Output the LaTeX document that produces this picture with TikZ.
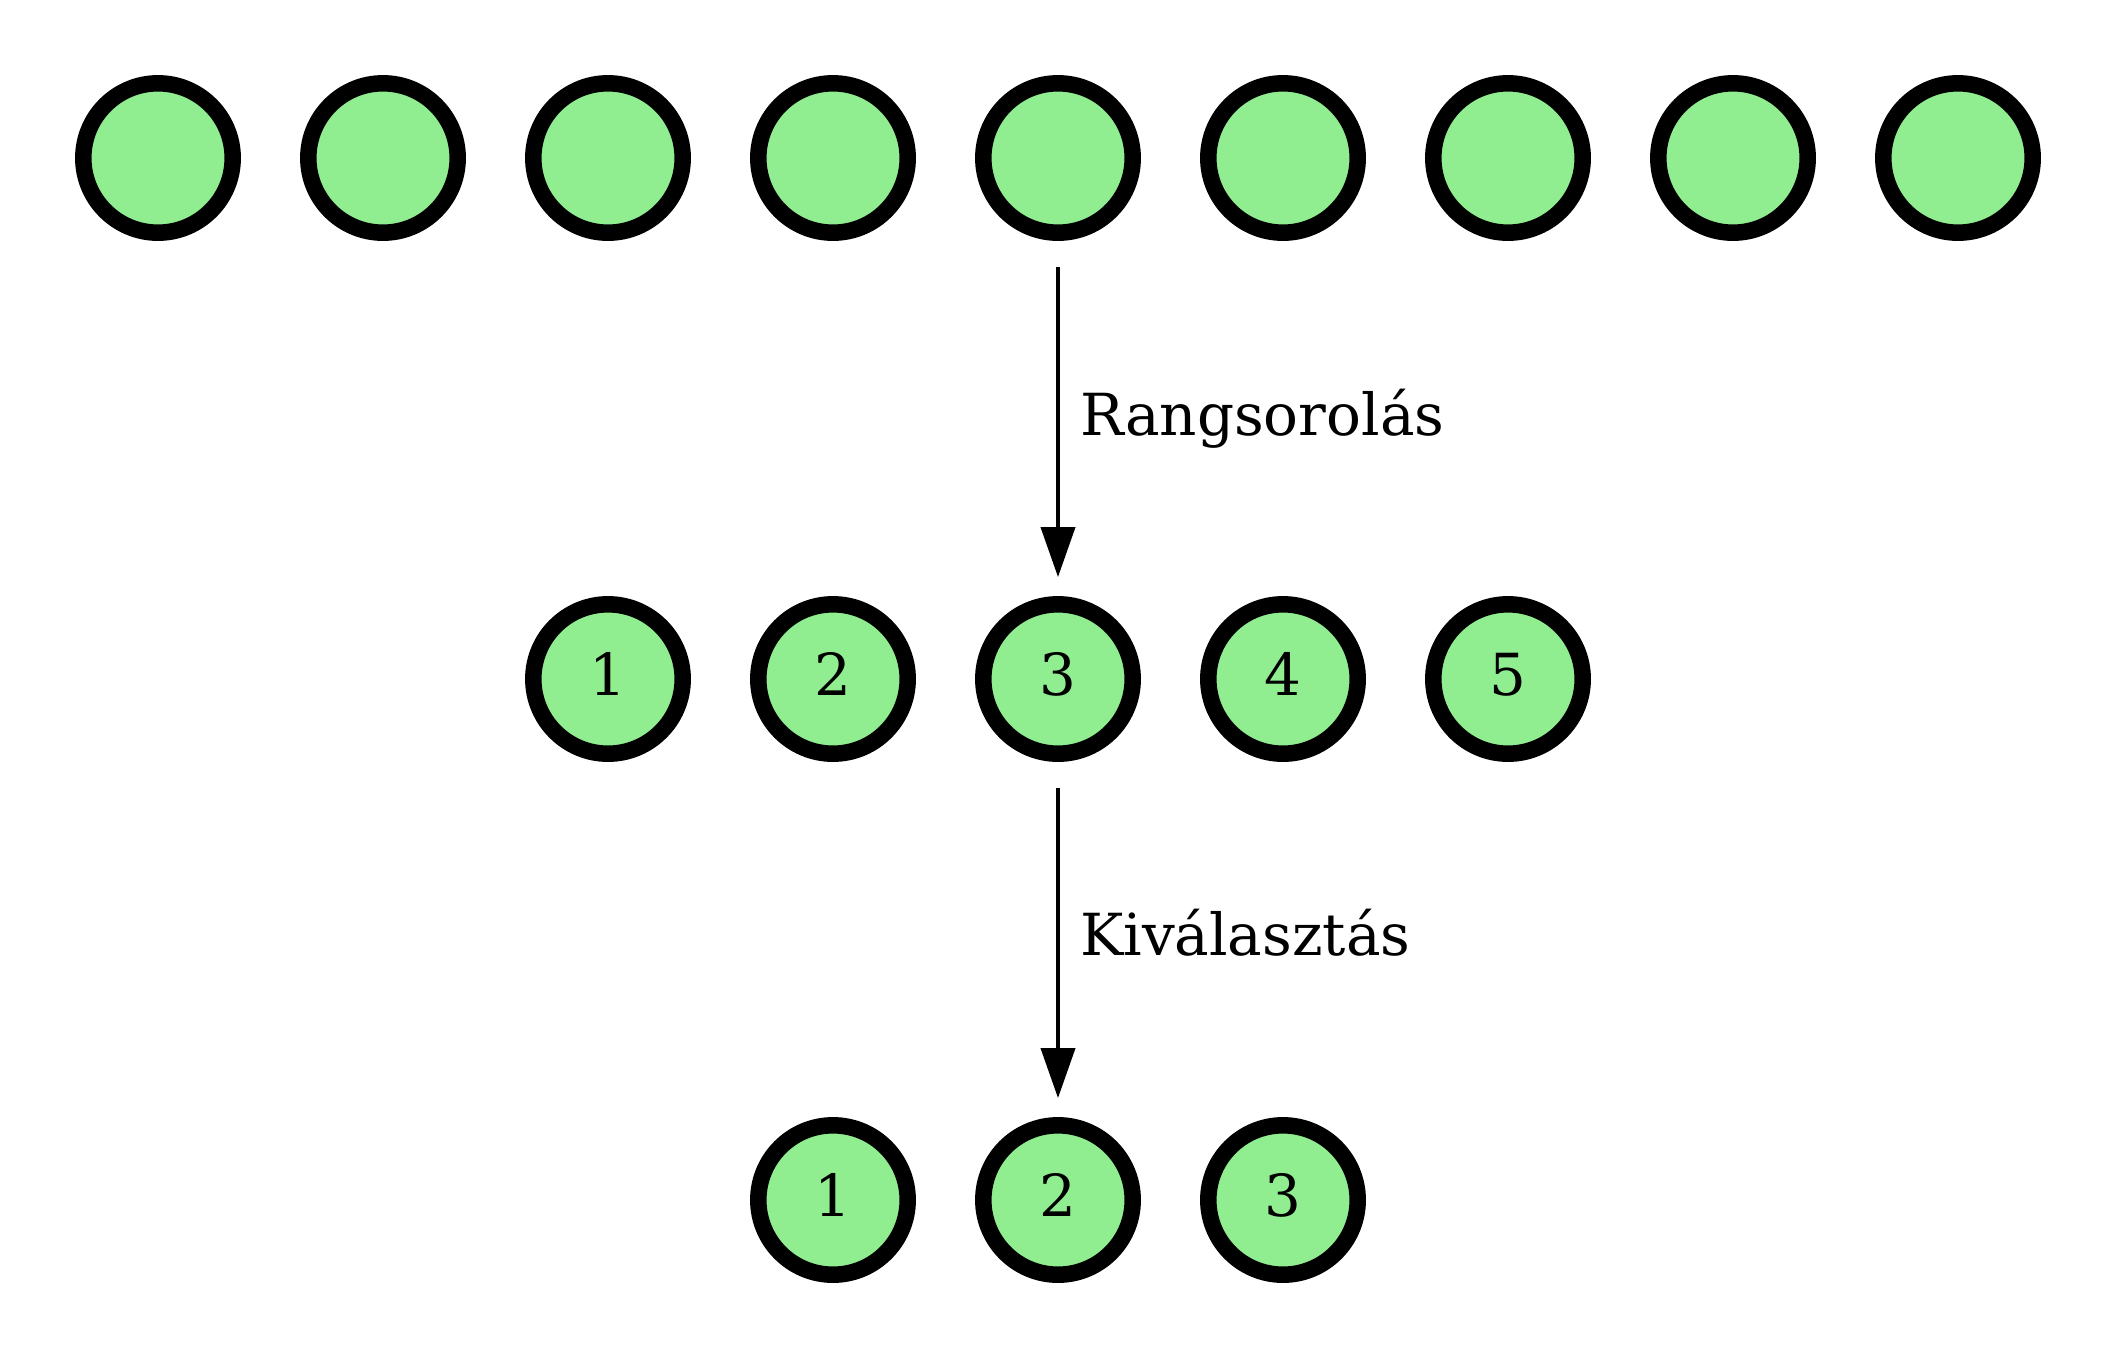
\documentclass[tikz,border=0pt]{standalone}
\usepackage{fontspec}
\setmainfont{DejaVu Serif}
\usetikzlibrary{arrows.meta}
\definecolor{lgreen}{HTML}{90EE90}
\tikzset{
  ball/.style={circle, draw=black, fill=lgreen, line width=16.5pt,
    minimum size=149.4pt, inner sep=0pt, text depth=10pt,
    font=\fontsize{58}{70}\selectfont},
  flow/.style={line width=4pt, -{Triangle[length=50pt,width=34pt]},
    shorten <=26pt, shorten >=19pt},
  lbl/.style={anchor=base west, inner sep=0pt, font=\fontsize{58}{70}\selectfont}
}
\begin{document}
\begin{tikzpicture}[x=1pt,y=-1pt]
\useasboundingbox (0,0) rectangle (2117,1358);
\foreach \i in {1,...,9} {
  \node[ball] (t\i) at ({158+225*(\i-1)},158) {};
}
\foreach \i in {1,...,5} {
  \node[ball] (m\i) at ({608+225*(\i-1)},679) {\i};
}
\foreach \i in {1,...,3} {
  \node[ball] (b\i) at ({833+225*(\i-1)},1200) {\i};
}
\draw[flow] (t5.south) -- (m3.north);
\draw[flow] (m3.south) -- (b2.north);
\node[lbl] (l1) at (1080,435) {Rangsorolás};
\node[lbl] (l2) at (1080,955) {Kiválasztás};
\end{tikzpicture}
\end{document}
